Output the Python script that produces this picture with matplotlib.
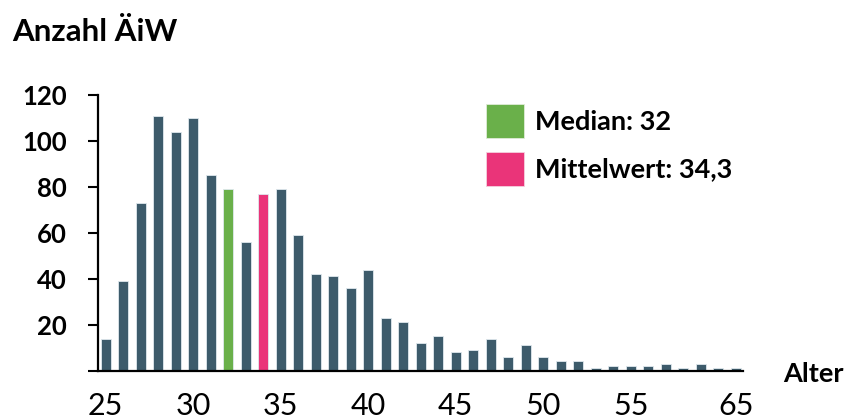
import matplotlib
matplotlib.use("Agg")
import matplotlib.pyplot as plt
from matplotlib.patches import Patch

plt.rcParams['font.family'] = ['Lato', 'DejaVu Sans']

# Data
ages = list(range(25, 62))
counts = [14, 39, 73, 111, 104, 110, 85, 79, 56, 77, 79, 59, 42, 41, 36, 44,
          23, 21, 12, 15, 8, 9, 14, 6, 11, 6, 4, 4, 1, 2, 2, 2, 3, 1, 3, 1, 1]
median_age = 32
mean_age = 34
xtick_ages = [25, 30, 35, 40, 45, 50, 55, 61]
xtick_labels = ['25', '30', '35', '40', '45', '50', '55', '65']
ytick_values = [0, 20, 40, 60, 80, 100, 120]
ytick_labels = ['', '20', '40', '60', '80', '100', '120']
legend_labels = ['Median: 32', 'Mittelwert: 34,3']

c_main = '#3D5B6B'
c_median = '#6AB04A'
c_mean = '#EA3479'

colors = []
for a in ages:
    if a == median_age:
        colors.append(c_median)
    elif a == mean_age:
        colors.append(c_mean)
    else:
        colors.append(c_main)

fig = plt.figure(figsize=(8.49, 4.19), dpi=100)
ax = fig.add_axes([0.1151, 0.1153, 0.8748 - 0.1151, 0.7733 - 0.1153])

ax.bar(ages, counts, width=0.56, color=colors, edgecolor='#dfe8ee', linewidth=0.6)

ax.set_xlim(24.54, 61.4)
ax.set_ylim(0, 120)

for s in ['top', 'right']:
    ax.spines[s].set_visible(False)
for s in ['left', 'bottom']:
    ax.spines[s].set_linewidth(1.6)
    ax.spines[s].set_color('black')

ax.set_yticks(ytick_values)
ax.set_yticklabels(ytick_labels, fontsize=18.5, fontweight='bold')
ax.tick_params(axis='y', direction='out', length=7.5, width=1.5, pad=15)

ax.set_xticks(xtick_ages)
ax.set_xticklabels(xtick_labels, fontsize=22)
ax.tick_params(axis='x', length=0, pad=15)

handles = [Patch(facecolor=c_median, edgecolor='#e0ecd8', linewidth=0.6),
           Patch(facecolor=c_mean, edgecolor='#f5d0de', linewidth=0.6)]
leg = ax.legend(handles, legend_labels, loc='upper left',
                bbox_to_anchor=(486 / 849, 1 - 104 / 419),
                bbox_transform=fig.transFigure, frameon=False, borderpad=0,
                borderaxespad=0, handlelength=1.40, handleheight=1.556,
                handletextpad=0.42, labelspacing=0.5,
                prop={'size': 19.5, 'weight': 'bold'})

fig.text(12 / 849, 1 - 31.5 / 419, 'Anzahl ÄiW', fontsize=22.5, fontweight='bold',
         ha='left', va='center')
fig.text(783 / 849, 1 - 381.7 / 419, 'Alter', fontsize=19.5, fontweight='bold',
         ha='left', va='baseline')

fig.savefig('out.png', dpi=100, facecolor='white')
